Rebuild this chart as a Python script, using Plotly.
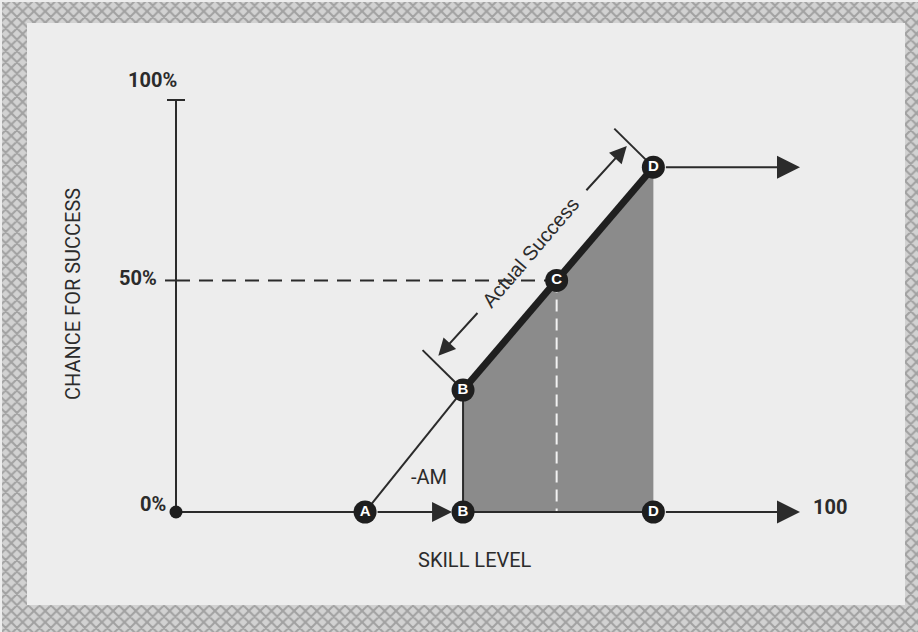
import math
import plotly.graph_objects as go

# ---------------- data ----------------
point_labels = ["A", "B", "C", "D"]
skill_x = [30.3, 46.0, 61.0, 76.5]      # skill level of points A, B, C, D
chance_y = [0.0, 29.6, 56.2, 83.7]      # chance for success at A, B, C, D
axis_max = 100
chance_tick_pos = [0, 56.2, 100]
chance_tick_text = ["0%", "50%", "100%"]
skill_end_text = "100"

# ---------------- geometry helpers (pixel <-> data) ----------------
W, H = 918, 632
OX, OY = 176, 512         # pixel of origin
SX, SY = 6.24, 4.12       # pixels per data unit


def to_px(x, y):
    return OX + x * SX, OY - y * SY


def to_data(px, py):
    return (px - OX) / SX, (OY - py) / SY


FONT = "Roboto, Arial, sans-serif"
DARK = "#2b2b2b"
BG = "#ededed"

A = (skill_x[0], chance_y[0])
B = (skill_x[1], chance_y[1])
C = (skill_x[2], chance_y[2])
D = (skill_x[3], chance_y[3])

fig = go.Figure()

# ---- decorative border (knotwork imitation) ----
o0 = to_data(2, 2); o1 = to_data(W, H)
i0 = to_data(27, 23); i1 = to_data(905, 605)
fx = [o0[0], o1[0], o1[0], o0[0], o0[0], i0[0], i0[0], i1[0], i1[0], i0[0], o0[0]]
fy = [o0[1], o0[1], o1[1], o1[1], o0[1], i0[1], i1[1], i1[1], i0[1], i0[1], o0[1]]
fig.add_trace(go.Scatter(x=fx, y=fy, mode="lines", fill="toself", line=dict(width=0),
                         fillcolor="#a6a6a6",
                         fillpattern=dict(shape="x", size=8, solidity=0.45,
                                          fgcolor="#707070", bgcolor="#d2d2d2"),
                         hoverinfo="skip", showlegend=False))

# ---- shaded area under actual success ----
fig.add_trace(go.Scatter(x=[B[0], D[0], D[0], B[0], B[0]], y=[B[1], D[1], 0, 0, B[1]],
                         mode="lines", fill="toself", fillcolor="#8b8b8b",
                         line=dict(width=0), hoverinfo="skip", showlegend=False))

# ---- 50% dashed guide ----
fig.add_trace(go.Scatter(x=[0, C[0]], y=[C[1], C[1]], mode="lines",
                         line=dict(color=DARK, width=2, dash="14px,9px"),
                         hoverinfo="skip", showlegend=False))
fig.add_trace(go.Scatter(x=[C[0], C[0]], y=[C[1], 0], mode="lines",
                         line=dict(color="#f2f2f2", width=2, dash="12px,7px"),
                         hoverinfo="skip", showlegend=False))

# ---- y axis with ticks ----
tick_half = 9 / SX
fig.add_trace(go.Scatter(x=[0, 0], y=[0, axis_max], mode="lines",
                         line=dict(color=DARK, width=2), hoverinfo="skip", showlegend=False))
fig.add_trace(go.Scatter(x=[-tick_half, tick_half], y=[chance_tick_pos[2]] * 2, mode="lines",
                         line=dict(color=DARK, width=2), hoverinfo="skip", showlegend=False))
fig.add_trace(go.Scatter(x=[-11 / SX, 0], y=[chance_tick_pos[1]] * 2, mode="lines",
                         line=dict(color=DARK, width=2), hoverinfo="skip", showlegend=False))

# ---- x axis pieces under markers ----
fig.add_trace(go.Scatter(x=[0, A[0]], y=[0, 0], mode="lines",
                         line=dict(color=DARK, width=2), hoverinfo="skip", showlegend=False))
fig.add_trace(go.Scatter(x=[B[0], D[0]], y=[0, 0], mode="lines",
                         line=dict(color=DARK, width=2), hoverinfo="skip", showlegend=False))

# ---- thin A->B line and B vertical ----
fig.add_trace(go.Scatter(x=[A[0], B[0]], y=[A[1], B[1]], mode="lines",
                         line=dict(color=DARK, width=2), hoverinfo="skip", showlegend=False))
fig.add_trace(go.Scatter(x=[B[0], B[0]], y=[B[1], 0], mode="lines",
                         line=dict(color=DARK, width=2), hoverinfo="skip", showlegend=False))

# ---- end ticks at B and D ----
for P, length in ((B, 57), (D, 55)):
    px, py = to_px(*P)
    ex, ey = to_data(px - 0.71 * length, py - 0.70 * length)
    fig.add_trace(go.Scatter(x=[P[0], ex], y=[P[1], ey], mode="lines",
                             line=dict(color=DARK, width=2), hoverinfo="skip", showlegend=False))

# ---- thick actual success line ----
fig.add_trace(go.Scatter(x=[B[0], D[0]], y=[B[1], D[1]], mode="lines",
                         line=dict(color="#1f1f1f", width=7), hoverinfo="skip", showlegend=False))

# ---- lettered markers ----
mk_x = [A[0], B[0], B[0], C[0], D[0], D[0]]
mk_y = [0, B[1], 0, C[1], D[1], 0]
mk_t = ["<b>%s</b>" % s for s in (point_labels[0], point_labels[1], point_labels[1],
                                  point_labels[2], point_labels[3], point_labels[3])]
fig.add_trace(go.Scatter(x=mk_x, y=mk_y, mode="markers+text", text=mk_t,
                         textposition="middle center",
                         textfont=dict(family="Liberation Sans, Arial, sans-serif", size=15, color="white"),
                         marker=dict(size=23, color="#1e1e1e", line=dict(width=0)),
                         hoverinfo="skip", showlegend=False))
# origin dot
fig.add_trace(go.Scatter(x=[0], y=[0], mode="markers",
                         marker=dict(size=13, color="#1e1e1e"), hoverinfo="skip", showlegend=False))

ann = []


def arrow(x, y, ax, ay, size=2.2, width=2, standoff=0, startstandoff=0):
    ann.append(dict(x=x, y=y, ax=ax, ay=ay, xref="x", yref="y", axref="x", ayref="y",
                    text="", showarrow=True, arrowhead=2, arrowsize=size, arrowwidth=width,
                    arrowcolor=DARK, standoff=standoff, startstandoff=startstandoff))


# x axis arrows
arrow(B[0], 0, A[0], 0, size=2.0, standoff=11, startstandoff=11)
arrow(axis_max, 0, D[0], 0, size=2.3, startstandoff=11)
# D horizontal arrow
arrow(axis_max, D[1], D[0], D[1], size=2.3, startstandoff=11)

# Actual Success arrows, offset from B-D line
bx, by = to_px(*B)
dxp, dyp = to_px(*D)
L = math.hypot(dxp - bx, dyp - by)
ux, uy = (dxp - bx) / L, (dyp - by) / L
nx, ny = uy, -ux   # up-left normal (pixel space, y down)


def along(t, off):
    return to_data(bx + ux * t + nx * off, by + uy * t + ny * off)


h1 = along(10, 41); t1 = along(70, 39)
h2 = along(292, 34); t2 = along(230, 36)
arrow(h1[0], h1[1], t1[0], t1[1], size=1.7, width=2)
arrow(h2[0], h2[1], t2[0], t2[1], size=1.7, width=2)
tc = along(149, 38)
angle = -math.degrees(math.atan2(-(uy), ux))
ann.append(dict(x=tc[0], y=tc[1], xref="x", yref="y", text="Actual Success", showarrow=False,
                textangle=angle, font=dict(family="Liberation Sans, Arial, sans-serif", size=20, color=DARK)))

# tick labels
bold = dict(family=FONT, size=20, color=DARK)
ann.append(dict(x=0, y=chance_tick_pos[0], xref="x", yref="y", text="<b>%s</b>" % chance_tick_text[0],
                showarrow=False, xanchor="right", xshift=-8, yshift=8, font=bold))
ann.append(dict(x=0, y=chance_tick_pos[1], xref="x", yref="y", text="<b>%s</b>" % chance_tick_text[1],
                showarrow=False, xanchor="right", xshift=-17, yshift=2, font=bold))
ann.append(dict(x=0, y=chance_tick_pos[2], xref="x", yref="y", text="<b>%s</b>" % chance_tick_text[2],
                showarrow=False, xanchor="center", yanchor="bottom", xshift=-24, yshift=6, font=bold))
ann.append(dict(x=axis_max, y=0, xref="x", yref="y", text="<b>%s</b>" % skill_end_text,
                showarrow=False, xanchor="left", xshift=11, yshift=5, font=bold))

# axis titles and -AM label
reg = dict(family=FONT, size=20, color=DARK)
ann.append(dict(x=475 / W, y=1 - 560 / H, xref="paper", yref="paper", text="SKILL LEVEL",
                xanchor="center", yanchor="middle", showarrow=False, font=reg))
ann.append(dict(x=73 / W, y=1 - 294 / H, xref="paper", yref="paper", text="CHANCE FOR SUCCESS",
                xanchor="center", yanchor="middle", showarrow=False, textangle=-90, font=reg))
ann.append(dict(x=429 / W, y=1 - 477 / H, xref="paper", yref="paper", text="-AM",
                xanchor="center", yanchor="middle", showarrow=False, font=reg))

xr = [to_data(0, 0)[0], to_data(W, 0)[0]]
yr = [to_data(0, H)[1], to_data(0, 0)[1]]
fig.update_layout(
    width=W, height=H,
    margin=dict(l=0, r=0, t=0, b=0),
    paper_bgcolor=BG, plot_bgcolor=BG,
    xaxis=dict(range=xr, visible=False, fixedrange=True),
    yaxis=dict(range=yr, visible=False, fixedrange=True),
    annotations=ann,
    showlegend=False,
)
fig.write_html("out.html", config={"displayModeBar": False},
               post_script="document.body.style.margin='0';document.body.style.padding='0';")
